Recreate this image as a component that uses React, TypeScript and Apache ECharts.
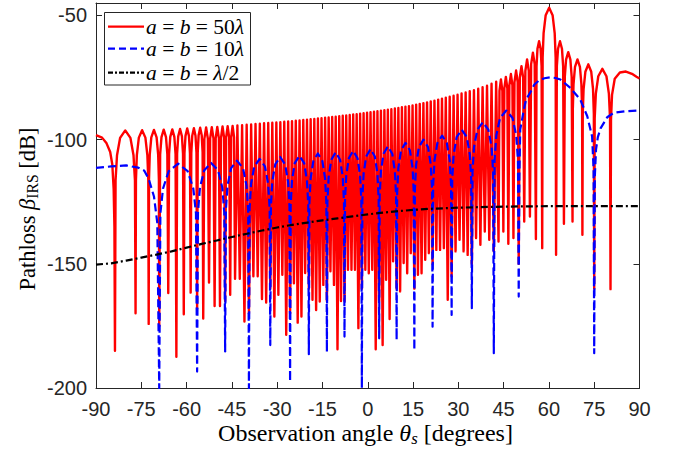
import React, { useEffect, useRef } from "react";
import * as echarts from "echarts";

// ---- red: a = b = 50λ  ([angle deg, dB]) ----
const redNulls: [number, number][] = [
  [-83.72, -185], [-76.9, -169.9], [-72.55, -174.2], [-69.06, -175], [-66.07, -161.8], [-63.38, -187.4],
  [-60.93, -170.3], [-58.65, -161.6], [-56.51, -168], [-54.49, -172], [-52.57, -157.5], [-50.72, -167],
  [-48.94, -167], [-47.23, -165], [-45.56, -162.5], [-43.95, -156], [-42.38, -156], [-40.84, -173.2],
  [-39.35, -170], [-37.88, -155], [-36.45, -155], [-35.03, -164.2], [-33.64, -165.6], [-32.28, -160],
  [-30.93, -171.2], [-29.6, -162.5], [-28.29, -154.4], [-27.0, -178.6], [-25.72, -170], [-24.46, -157.8],
  [-23.2, -173.7], [-21.96, -171.2], [-20.73, -153.7], [-19.51, -160], [-18.3, -164.5], [-17.1, -168.6],
  [-15.9, -165.2], [-14.71, -158.5], [-13.53, -165], [-12.36, -153], [-11.19, -158.5], [-10.02, -184.4],
  [-8.86, -165], [-7.7, -165], [-6.55, -152.4], [-5.39, -152.4], [-4.24, -152.4], [-3.1, -175.9],
  [-1.95, -160], [-0.8, -152.4], [0.34, -153.8], [1.49, -152.4], [2.64, -184.4], [3.78, -165],
  [4.93, -182.7], [6.08, -156.4], [7.24, -172.2], [8.4, -149], [9.56, -160], [10.72, -161.1],
  [11.89, -149.7], [13.06, -153.8], [14.24, -145.7], [15.43, -160], [16.62, -154.4], [17.82, -153.8],
  [19.03, -148.4], [20.24, -145.7], [21.47, -150], [22.71, -144.4], [23.95, -144.4], [25.21, -143.7],
  [26.49, -164.5], [27.78, -155], [29.08, -145], [30.4, -140.3], [31.74, -145], [33.09, -146.4],
  [34.47, -150], [35.87, -139.6], [37.3, -142.3], [38.76, -137], [40.24, -140.3], [41.75, -145],
  [43.31, -141], [44.91, -137], [46.56, -141.9], [48.25, -139.6], [50.0, -150], [51.82, -133],
  [53.71, -131], [55.69, -140], [57.78, -143.7], [62.37, -146.4], [64.97, -133.9], [67.82, -133],
  [71.09, -138.3], [75.0, -160], [80.4, -160.2],
];

const redPeaks: [number, number][] = [
  [-80.31, -96.3], [-74.73, -96.2], [-70.81, -96.1], [-67.57, -96.0], [-64.73, -95.9], [-62.16, -95.7],
  [-59.79, -95.5], [-57.58, -95.4], [-55.5, -95.2], [-53.53, -95.1], [-51.65, -95.0], [-49.83, -94.9],
  [-48.09, -94.7], [-46.4, -94.6], [-44.76, -94.5], [-43.17, -94.3], [-41.61, -94.2], [-40.1, -94.0],
  [-38.62, -93.9], [-37.17, -93.7], [-35.74, -93.6], [-34.34, -93.4], [-32.96, -93.3], [-31.61, -93.2],
  [-30.27, -93.1], [-28.95, -93.0], [-27.65, -92.8], [-26.36, -92.7], [-25.09, -92.6], [-23.83, -92.4],
  [-22.58, -92.3], [-21.35, -92.1], [-20.12, -92.0], [-18.91, -91.8], [-17.7, -91.7], [-16.5, -91.5],
  [-15.31, -91.4], [-14.12, -91.2], [-12.95, -91.1], [-11.78, -90.9], [-10.61, -90.8], [-9.44, -90.6],
  [-8.28, -90.4], [-7.13, -90.3], [-5.97, -90.1], [-4.82, -89.9], [-3.67, -89.8], [-2.53, -89.6],
  [-1.38, -89.4], [-0.23, -89.2], [0.92, -89.0], [2.07, -88.8], [3.21, -88.6], [4.36, -88.4],
  [5.51, -88.2], [6.66, -88.0], [7.82, -87.8], [8.98, -87.5], [10.14, -87.3], [11.31, -87.0],
  [12.48, -86.7], [13.65, -86.5], [14.84, -86.2], [16.03, -85.9], [17.22, -85.6], [18.43, -85.3],
  [19.64, -85.0], [20.86, -84.6], [22.09, -84.3], [23.33, -83.9], [24.58, -83.5], [25.85, -83.1],
  [27.14, -82.7], [28.43, -82.3], [29.74, -81.9], [31.07, -81.4], [32.42, -81.0], [33.78, -80.5],
  [35.17, -80.1], [36.59, -79.5], [38.03, -78.9], [39.5, -78.3], [41.0, -77.5], [42.53, -76.7],
  [44.11, -75.8], [45.74, -74.8], [47.41, -73.6], [49.13, -72.2], [50.91, -70.4], [52.77, -67.7],
  [54.7, -65.0], [56.74, -60.4], [60.08, -46.9], [63.67, -60.4], [66.4, -64.8], [69.46, -67.7],
  [73.05, -69.7], [77.7, -71.5],
];

const redShoulders: [number, number][] = [
  [-83.52, -116.3], [-83.04, -106.3], [-82.02, -99.3], [-78.6, -99.3], [-77.58, -106.3], [-77.1, -116.3],
  [-76.77, -116.2], [-76.47, -106.2], [-75.81, -99.2], [-73.64, -99.2], [-72.99, -106.2], [-72.68, -116.2],
  [-72.45, -116.1], [-72.2, -106.1], [-71.68, -99.1], [-69.93, -99.1], [-69.41, -106.1], [-69.17, -116.1],
  [-68.76, -106], [-68.31, -99], [-66.82, -99], [-66.37, -106],
  [-65.8, -105.9], [-65.4, -98.9], [-64.05, -98.9], [-63.65, -105.9],
  [-63.14, -105.7], [-62.77, -98.7], [-61.54, -98.7], [-61.18, -105.7],
  [-60.7, -105.5], [-60.36, -98.5], [-59.22, -98.5], [-58.88, -105.5],
  [-58.44, -105.4], [-58.12, -98.4], [-57.05, -98.4], [-56.72, -105.4],
  [-56.31, -105.2], [-56.01, -98.2], [-54.99, -98.2], [-54.69, -105.2],
  [-54.11, -99.7], [-52.95, -99.7], [-52.2, -99.6], [-51.09, -99.6], [-50.36, -99.5], [-49.3, -99.5],
  [-48.6, -99.3], [-47.57, -99.3], [-46.9, -99.2], [-45.89, -99.2], [-45.24, -99.1], [-44.27, -99.1],
  [43.63, -80.4], [44.59, -80.4], [45.24, -79.4], [46.23, -79.4], [46.9, -78.2], [47.91, -78.2],
  [48.6, -76.8], [49.65, -76.8], [50.36, -75.0], [51.46, -75.0], [52.2, -72.3], [53.33, -72.3],
  [54.11, -69.6], [55.29, -69.6],
  [55.9, -70.4], [56.21, -63.4], [57.26, -63.4], [57.57, -70.4],
  [57.92, -66.9], [58.24, -57.1], [58.93, -49.9], [61.22, -49.9], [61.91, -57.1], [62.23, -66.9],
  [62.63, -70.4], [63.02, -63.4], [64.32, -63.4], [64.71, -70.4],
  [65.26, -74.8], [65.68, -67.8], [67.11, -67.8], [67.54, -74.8],
  [67.92, -87.7], [68.15, -77.7], [68.64, -70.7], [70.27, -70.7], [70.76, -77.7], [70.99, -87.7],
  [71.21, -89.7], [71.48, -79.7], [72.07, -72.7], [74.02, -72.7], [74.61, -79.7], [74.88, -89.7],
  [75.16, -91.5], [75.54, -81.5], [76.35, -74.5], [79.05, -74.5], [79.86, -81.5], [80.24, -91.5],
];

const redEdges: [number, number][] = [
  [-90, -98.2], [-88, -99.2], [-86.5, -101.5], [-85.3, -105], [-84.6, -110], [-84.15, -120], [-83.9, -135],
  [80.56, -92], [80.9, -82], [81.8, -75.5], [83.5, -73], [85.5, -72.6], [87.5, -73.5], [89, -74.7], [90, -75.4],
];

// ---- blue: a = b = 10λ ----
const blueNulls: [number, number][] = [
  [-69.06, -200], [-56.51, -193.4], [-47.23, -185.3], [-39.35, -200], [-32.28, -182.7], [-25.72, -197.4],
  [-19.51, -186.4], [-13.53, -185.4], [-7.7, -179.3], [-1.95, -200], [3.78, -180], [9.56, -180.6],
  [15.43, -184.7], [21.47, -175.3], [27.78, -170.6], [34.47, -167.9], [41.75, -186], [50.0, -163.2],
  [75.0, -186],
];

const bluePeaks: [number, number][] = [
  [-62.79, -109.7], [-51.87, -109.4], [-43.29, -108.5], [-35.82, -107.8], [-29.0, -107.0], [-22.62, -106.5],
  [-16.52, -105.6], [-10.62, -105.1], [-4.83, -104.5], [0.92, -103.8], [6.67, -102.7], [12.5, -101.3],
  [18.45, -100.0], [24.63, -98.4], [31.13, -96.0], [38.11, -93.0], [45.88, -88.3],
];

const blueShoulders: [number, number][] = [
  [-68.68, -129.7], [-67.81, -119.7], [-65.92, -112.7], [-59.65, -112.7], [-57.77, -119.7], [-56.89, -129.7],
  [-56.23, -129.4], [-55.58, -119.4], [-54.19, -112.4], [-49.55, -112.4], [-48.16, -119.4], [-47.51, -129.4],
  [-46.99, -128.5], [-46.44, -118.5], [-45.26, -111.5], [-41.32, -111.5], [-40.14, -118.5], [-39.59, -128.5],
  [-39.14, -127.8], [-38.64, -117.8], [-37.58, -110.8], [-34.05, -110.8], [-32.99, -117.8], [-32.49, -127.8],
  [-32.08, -127], [-31.62, -117], [-30.64, -110], [-27.36, -110], [-26.38, -117], [-25.92, -127],
  [-25.53, -126.5], [-25.1, -116.5], [-24.17, -109.5], [-21.06, -109.5], [-20.13, -116.5], [-19.7, -126.5],
  [-19.33, -125.6], [-18.91, -115.6], [-18.01, -108.6], [-15.03, -108.6], [-14.13, -115.6], [-13.71, -125.6],
  [-13.36, -125.1], [-12.95, -115.1], [-12.07, -108.1], [-9.16, -108.1], [-8.28, -115.1], [-7.87, -125.1],
  [-7.53, -124.5], [-7.13, -114.5], [-6.26, -107.5], [-3.39, -107.5], [-2.53, -114.5], [-2.12, -124.5],
  [-1.78, -123.8], [-1.38, -113.8], [-0.52, -106.8], [2.35, -106.8], [3.21, -113.8], [3.61, -123.8],
  [3.95, -122.7], [4.36, -112.7], [5.23, -105.7], [8.11, -105.7], [8.98, -112.7], [9.39, -122.7],
  [9.74, -121.3], [10.15, -111.3], [11.03, -104.3], [13.96, -104.3], [14.84, -111.3], [15.25, -121.3],
  [15.61, -120], [16.03, -110], [16.94, -103], [19.96, -103], [20.87, -110], [21.29, -120],
  [21.66, -118.4], [22.1, -108.4], [23.05, -101.4], [26.2, -101.4], [27.15, -108.4], [27.59, -118.4],
  [27.98, -116], [28.45, -106], [29.45, -99], [32.8, -99], [33.8, -106], [34.27, -116],
  [34.69, -113], [35.2, -103], [36.29, -96], [39.93, -96], [41.02, -103], [41.53, -113],
  [42.0, -108.3], [42.58, -98.3], [43.81, -91.3], [47.94, -91.3], [49.17, -98.3], [49.75, -108.3],
];

const blueEdges: [number, number][] = [
  [-90, -111.4], [-85, -110.8], [-80, -110.4], [-76, -111.3], [-74, -112.5], [-72.5, -116], [-70.8, -122.9], [-69.7, -133.5],
  [50.2, -115], [50.5, -96], [51.7, -87.9], [52.4, -84], [53.9, -80.8], [55.2, -77.8], [56.6, -76.3], [58.5, -75.3],
  [60.4, -74.9], [62.2, -75.2], [63.8, -75.8], [67.1, -79.2], [70.4, -83.9], [72.7, -90.6], [74.3, -98.7], [74.8, -112],
  [75.2, -115], [75.6, -104], [76.2, -99], [77.1, -95.5], [79.3, -91], [81.5, -89.2], [85, -88.6], [90, -88.3],
];

// ---- black: a = b = λ/2 ----
const blackAngles = [-90, -85, -80, -75, -70, -65, -60, -55, -50, -45, -40, -35, -30, -25, -20, -15, -10, -5, 0, 5, 10, 15, 20, 30, 40, 50, 60, 75, 90];
const blackDb = [-150.3, -149.8, -148.7, -147.5, -146.3, -145, -143.5, -142, -140.6, -139.2, -137.9, -136.6, -135.4, -134.3, -133.4, -132.5, -131.7, -130.9, -130.1, -129.4, -128.8, -128.3, -127.9, -127.4, -127.1, -126.9, -126.8, -126.8, -126.8];

const legendNames = ["a = b = 50λ", "a = b = 10λ", "a = b = λ/2"];

const merge = (...parts: [number, number][][]) =>
  ([] as [number, number][]).concat(...parts).sort((p, q) => p[0] - q[0]);

const AX = "#262626";
const SANS = "Liberation Sans, Arial, sans-serif";
const SERIF = "Liberation Serif, Times New Roman, serif";

export default function App() {
  const ref = useRef<HTMLDivElement>(null);
  useEffect(() => {
    document.body.style.margin = "0";
    const chart = echarts.init(ref.current!, null, { renderer: "svg" });
    const red = merge(redNulls, redPeaks, redShoulders, redEdges);
    const blue = merge(blueNulls, bluePeaks, blueShoulders, blueEdges);
    const black = blackAngles.map((a, i) => [a, blackDb[i]]);

    const xCommon = {
      type: "value", min: -90, max: 90, interval: 15,
      axisLine: { show: true, onZero: false, lineStyle: { color: AX, width: 1 } },
      axisTick: { show: true, inside: true, length: 6, lineStyle: { color: AX, width: 1 } },
      splitLine: { show: false },
    };
    const yCommon = {
      type: "value", min: -200, max: -45, interval: 50,
      axisLine: { show: true, onZero: false, lineStyle: { color: AX, width: 1 } },
      axisTick: { show: true, inside: true, length: 6, lineStyle: { color: AX, width: 1 } },
      splitLine: { show: false },
    };

    const legendRows = [26.7, 48.7, 72.7];
    const legendStyles = [
      { stroke: "#ff0000", lineDash: null as any },
      { stroke: "#0000ff", lineDash: [7, 4] },
      { stroke: "#000000", lineDash: [5, 2, 2, 2] },
    ];
    const mathRich = {
      i: { fontFamily: SERIF, fontStyle: "italic", fontSize: 21.5, lineHeight: 18, color: "#000" },
      r: { fontFamily: SERIF, fontSize: 21.5, lineHeight: 18, color: "#000" },
    };
    const legendText = (s: string) =>
      s.split("").map((ch) => (/[abλ]/.test(ch) ? `{i|${ch}}` : ch === " " ? "{r|\u00a0}" : `{r|${ch}}`)).join("");

    const legendEls: any[] = [
      {
        type: "rect", z: 100, shape: { x: 104.5, y: 12.5, width: 146, height: 72.5 },
        style: { fill: "#fff", stroke: AX, lineWidth: 1 },
      },
    ];
    legendRows.forEach((y, i) => {
      legendEls.push({
        type: "line", z: 101, shape: { x1: 108, y1: y, x2: 144, y2: y },
        style: { stroke: legendStyles[i].stroke, lineWidth: 2.2, lineDash: legendStyles[i].lineDash },
      });
      legendEls.push({
        type: "text", z: 101, x: 146, y: y,
        style: { text: legendText(legendNames[i]), rich: mathRich, align: "left", verticalAlign: "middle" },
      });
    });

    const titleRich = (size: number) => ({
      r: { fontFamily: SERIF, fontSize: size, color: "#262626" },
      i: { fontFamily: SERIF, fontSize: size, fontStyle: "italic", color: "#262626" },
      s: { fontFamily: SERIF, fontSize: size * 0.7, fontStyle: "italic", color: "#262626", padding: [10, 0, 0, 0] },
      u: { fontFamily: SERIF, fontSize: size * 0.7, color: "#262626", padding: [10, 0, 0, 0] },
    });

    chart.setOption({
      animation: false,
      backgroundColor: "#fff",
      grid: { left: 96, right: 34.5, top: 3, bottom: 66, containLabel: false, outerBoundsMode: "none" },
      xAxis: [
        { ...xCommon, position: "bottom", axisLabel: { margin: 11, fontSize: 20, color: AX, fontFamily: SANS } },
        { ...xCommon, position: "top", axisLabel: { show: false } },
      ],
      yAxis: [
        { ...yCommon, position: "left", axisLabel: { margin: 9, fontSize: 20, color: AX, fontFamily: SANS, showMaxLabel: false } },
        { ...yCommon, position: "right", axisLabel: { show: false } },
      ],
      series: [
        { type: "line", name: legendNames[0], data: red, showSymbol: false, symbol: "none", clip: true,
          lineStyle: { color: "#ff0000", width: 2.4, join: "round" } },
        { type: "line", name: legendNames[1], data: blue, showSymbol: false, symbol: "none", clip: true,
          lineStyle: { color: "#0000ff", width: 2.2, type: [8, 4], join: "round" } },
        { type: "line", name: legendNames[2], data: black, showSymbol: false, symbol: "none", clip: true,
          lineStyle: { color: "#000000", width: 2.2, type: [7, 3, 2, 3] } },
      ],
      graphic: {
        elements: [
          ...legendEls,
          {
            type: "text", x: 365.5, y: 433,
            style: {
              text: "{r|Observation\u00a0angle\u00a0}{i|θ}{s|s}{r|\u00a0[degrees]}",
              rich: titleRich(24), align: "center", verticalAlign: "middle",
            },
          },
          {
            type: "text", x: 27, y: 209, rotation: Math.PI / 2,
            style: {
              text: "{r|Pathloss\u00a0}{i|β}{u|IRS}{r|\u00a0[dB]}",
              rich: titleRich(22.5), align: "center", verticalAlign: "middle",
            },
          },
        ],
      },
    });
    return () => chart.dispose();
  }, []);
  return <div ref={ref} style={{ width: 674, height: 454 }} />;
}
